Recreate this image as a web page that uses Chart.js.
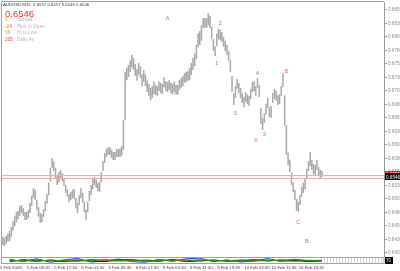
<!DOCTYPE html>
<html><head><meta charset="utf-8">
<script src="https://cdn.jsdelivr.net/npm/chart.js@4.4.1/dist/chart.umd.min.js"></script>
<style>
html,body{margin:0;padding:0;background:#fff;}
#wrap{position:relative;width:400px;height:271px;overflow:hidden;background:#fff;font-family:"Liberation Sans",Arial,sans-serif;}
canvas{position:absolute;left:0;}
#main{top:0;}
#ind{top:257px;}
.t{position:absolute;white-space:nowrap;line-height:1;}
</style></head><body>
<div id="wrap">
<canvas id="main" width="400" height="257"></canvas>
<canvas id="ind" width="400" height="14"></canvas>
<div class="t" style="left:3px;top:3px;font-size:4.3px;color:#333">AUDUSD,M15&nbsp; 0.6557 0.6557 0.6546 0.6546</div>
<div class="t" style="left:5px;top:9px;font-size:9.5px;color:#ff2a2a">0.6546</div>
<div class="t" style="left:5px;top:18px;font-size:4.8px;color:#d8b400">5</div>
<div class="t" style="left:17px;top:18px;font-size:4.8px;color:#b4b4c0">Spread</div>
<div class="t" style="left:5px;top:24.5px;font-size:4.8px;color:#ff5a3c">-24</div>
<div class="t" style="left:17px;top:24.5px;font-size:4.8px;color:#b4b4c0">Pips to Open</div>
<div class="t" style="left:5px;top:31px;font-size:4.8px;color:#e0b000">66</div>
<div class="t" style="left:17px;top:31px;font-size:4.8px;color:#b4b4c0">Hi to Low</div>
<div class="t" style="left:5px;top:37.5px;font-size:4.8px;color:#ff3c3c">205</div>
<div class="t" style="left:17px;top:37.5px;font-size:4.8px;color:#b4b4c0">Daily Av</div>
</div>
<script>
// ---- data (30-minute bars, AUDUSD 5-10 Feb 2009) ----
const highs = [
0.6435,0.6433,0.6437,0.6441,0.6446,0.6453,0.6464,0.6474,0.6481,0.6483,
0.6492,0.6494,0.6488,0.6481,0.6481,0.6485,0.6498,0.6511,0.6525,0.6522,
0.6503,0.6490,0.6479,0.6477,0.6486,0.6501,0.6514,0.6535,0.6563,0.6581,
0.6575,0.6563,0.6549,0.6555,0.6559,0.6553,0.6544,0.6531,0.6523,0.6514,
0.6518,0.6522,0.6523,0.6507,0.6498,0.6512,0.6525,0.6516,0.6500,0.6485,
0.6500,0.6520,0.6531,0.6542,0.6546,0.6541,0.6535,0.6537,0.6555,0.6575,
0.6590,0.6598,0.6601,0.6601,0.6596,0.6592,0.6592,0.6598,0.6598,0.6598,
0.6603,0.6651,0.6740,0.6748,0.6753,0.6762,0.6772,0.6766,0.6755,0.6746,
0.6757,0.6751,0.6736,0.6744,0.6736,0.6725,0.6718,0.6711,0.6714,0.6722,
0.6716,0.6714,0.6723,0.6720,0.6718,0.6731,0.6723,0.6722,0.6725,0.6720,
0.6718,0.6722,0.6716,0.6716,0.6725,0.6729,0.6733,0.6738,0.6740,0.6742,
0.6748,0.6757,0.6766,0.6774,0.6790,0.6812,0.6816,0.6827,0.6840,0.6840,
0.6840,0.6849,0.6844,0.6824,0.6801,0.6788,0.6811,0.6820,0.6818,0.6814,
0.6805,0.6798,0.6790,0.6779,0.6762,0.6733,0.6701,0.6714,0.6727,0.6720,
0.6711,0.6701,0.6694,0.6703,0.6699,0.6696,0.6709,0.6722,0.6723,0.6714,
0.6729,0.6716,0.6674,0.6655,0.6664,0.6681,0.6692,0.6675,0.6677,0.6701,
0.6709,0.6705,0.6697,0.6699,0.6714,0.6738,0.6697,0.6642,0.6591,0.6578,
0.6554,0.6536,0.6522,0.6505,0.6500,0.6512,0.6527,0.6535,0.6542,0.6561,
0.6575,0.6592,0.6577,0.6570,0.6568,0.6577,0.6564,0.6559,0.6557];
const lows = [
0.6420,0.6418,0.6422,0.6426,0.6427,0.6435,0.6446,0.6455,0.6462,0.6468,
0.6474,0.6479,0.6474,0.6466,0.6466,0.6470,0.6479,0.6492,0.6507,0.6503,
0.6485,0.6472,0.6461,0.6462,0.6472,0.6483,0.6496,0.6512,0.6537,0.6563,
0.6557,0.6544,0.6531,0.6536,0.6544,0.6538,0.6529,0.6516,0.6509,0.6499,
0.6503,0.6507,0.6505,0.6488,0.6479,0.6494,0.6507,0.6498,0.6481,0.6466,
0.6481,0.6501,0.6512,0.6523,0.6531,0.6526,0.6520,0.6518,0.6536,0.6557,
0.6572,0.6583,0.6587,0.6587,0.6581,0.6577,0.6577,0.6583,0.6583,0.6583,
0.6585,0.6596,0.6651,0.6725,0.6731,0.6740,0.6749,0.6744,0.6733,0.6724,
0.6735,0.6729,0.6714,0.6722,0.6714,0.6703,0.6696,0.6688,0.6692,0.6699,
0.6698,0.6696,0.6705,0.6701,0.6699,0.6712,0.6705,0.6703,0.6707,0.6701,
0.6699,0.6703,0.6698,0.6698,0.6707,0.6711,0.6714,0.6720,0.6722,0.6724,
0.6725,0.6735,0.6744,0.6751,0.6764,0.6786,0.6790,0.6798,0.6822,0.6822,
0.6822,0.6827,0.6822,0.6801,0.6779,0.6770,0.6788,0.6801,0.6799,0.6796,
0.6787,0.6779,0.6772,0.6761,0.6740,0.6703,0.6679,0.6692,0.6709,0.6701,
0.6692,0.6683,0.6675,0.6685,0.6681,0.6677,0.6690,0.6703,0.6705,0.6696,
0.6711,0.6694,0.6644,0.6633,0.6646,0.6662,0.6674,0.6657,0.6655,0.6683,
0.6690,0.6687,0.6679,0.6681,0.6696,0.6712,0.6641,0.6587,0.6568,0.6555,
0.6531,0.6518,0.6503,0.6483,0.6481,0.6494,0.6509,0.6516,0.6523,0.6543,
0.6557,0.6566,0.6559,0.6551,0.6549,0.6559,0.6549,0.6544,0.6546];
const timeLabels = ['5 Feb 2009','5 Feb 09:30','5 Feb 17:30','6 Feb 01:30','6 Feb 09:30','6 Feb 17:30',
  '9 Feb 03:30','9 Feb 11:30','9 Feb 19:30','10 Feb 03:30','10 Feb 11:30','10 Feb 19:30'];
const barsPerLabel = 16;
const slotCount = 225;               // bars + empty right margin (chart shift)
const priceTicks = [0.6405,0.6430,0.6455,0.6480,0.6505,0.6530,0.6555,0.6580,0.6605,0.6630,
  0.6655,0.6680,0.6705,0.6730,0.6755,0.6780,0.6805,0.6830,0.6855];
const bidPrice = 0.6546, askPrice = 0.6551;
const levelLines = [0.6550, 0.6543];
const waveText  = ['A','2','1','4','5','3','B','A','C','B'];
const waveBar   = [97,128,126,150,137,154,167,149,174,179];
const wavePrice = [0.6840,0.6831,0.6757,0.6737,0.6664,0.6625,0.6742,0.6614,0.6462,0.6427];
const waveRed   = [false,false,false,false,false,false,true,true,true,false];
// oscillator sub-window (one value every 8 bars)
const oscBar   = [4,12,20,28,36,44,52,60,68,76,84,92,100,108,116,124,132,140,148,156,164,172,180,188];
const oscRed   = [40,55,30,60,45,35,70,50,40,55,35,60,50,45,65,40,55,30,50,60,45,35,55,50];
const oscGreen = [50,45,60,40,55,60,45,65,50,40,60,45,55,60,40,55,45,60,40,50,55,60,45,55];
const oscBlue  = [70,30,80,20,60,85,25,40,75,30,20,70,35,80,90,30,60,25,40,85,30,70,50,40];
const oscBlack = [30,65,45,55,30,50,40,30,60,65,45,35,70,30,45,60,35,50,65,40,60,50,30,45];

const FONT = '"Liberation Sans", Arial, sans-serif';
Chart.defaults.font.family = FONT;
Chart.defaults.animation = false;

const slots = Array.from({length: slotCount}, (_, i) => i);
const ranges = lows.map((l, i) => [l, highs[i]]);

const mainDeco = {
  id: 'mainDeco',
  afterDatasetsDraw(chart) {
    const {ctx, chartArea: a, scales: {x, y}} = chart;
    ctx.save();
    ctx.lineWidth = 1;
    ctx.strokeStyle = '#f4a8a8';
    levelLines.forEach(v => {
      const py = Math.round(y.getPixelForValue(v)) + 0.5;
      ctx.beginPath(); ctx.moveTo(a.left, py); ctx.lineTo(a.right, py); ctx.stroke();
    });
    ctx.strokeStyle = '#a0a0a0';
    ctx.beginPath();
    ctx.moveTo(a.left - 0.5, a.bottom); ctx.lineTo(a.left - 0.5, a.top - 0.5); ctx.lineTo(a.right, a.top - 0.5);
    ctx.stroke();
    ctx.font = '6px ' + FONT;
    ctx.textAlign = 'center'; ctx.textBaseline = 'middle';
    waveText.forEach((t, k) => {
      ctx.fillStyle = waveRed[k] ? '#ff6a6a' : '#8c8c8c';
      ctx.fillText(t, x.getPixelForValue(waveBar[k]), y.getPixelForValue(wavePrice[k]));
    });
    ctx.restore();
  },
  afterDraw(chart) {
    const {ctx, chartArea: a, scales: {y}} = chart;
    ctx.save();
    ctx.font = '4.6px ' + FONT;
    ctx.textBaseline = 'middle'; ctx.textAlign = 'left';
    const box = (v, bg, fg, txt) => {
      const py = y.getPixelForValue(v);
      ctx.fillStyle = bg; ctx.fillRect(a.right + 1, Math.round(py - 3.5), 15, 7);
      ctx.fillStyle = fg; ctx.fillText(txt, a.right + 2, py + 0.5);
    };
    box(askPrice, '#ff1010', '#ffffff', askPrice.toFixed(4));
    box(bidPrice, '#000000', '#ffffff', bidPrice.toFixed(4));
    ctx.restore();
  }
};

new Chart(document.getElementById('main'), {
  type: 'bar',
  data: {
    labels: slots,
    datasets: [{
      data: ranges,
      backgroundColor: '#a8a8a8',
      borderWidth: 0,
      barPercentage: 0.9,
      categoryPercentage: 1.0
    }]
  },
  options: {
    responsive: false,
    layout: {padding: {top: 2, left: 2, right: 0, bottom: 0}},
    plugins: {legend: {display: false}, tooltip: {enabled: false}},
    scales: {
      x: {type: 'category', display: false, offset: true},
      y: {
        position: 'right',
        min: 0.639759, max: 0.686981,
        afterBuildTicks: s => { s.ticks = priceTicks.map(v => ({value: v})); },
        afterFit: s => { s.width = 16; s.paddingTop = 0; s.paddingBottom = 0; },
        ticks: {
          font: {size: 4.6, family: FONT}, color: '#8a8a8a', padding: 1,
          callback: v => Number(v).toFixed(4)
        },
        grid: {drawOnChartArea: false, tickLength: 3, color: '#9a9a9a'},
        border: {color: '#9a9a9a'}
      }
    }
  },
  plugins: [mainDeco]
});

const indDeco = {
  id: 'indDeco',
  beforeDatasetsDraw(chart) {
    const {ctx, chartArea: a, scales: {x}} = chart;
    ctx.save();
    const x0 = x.getPixelForValue(highs.length - 0.5);
    ctx.strokeStyle = '#d2d2d2'; ctx.lineWidth = 1;
    for (let px = Math.round(x0) + 1.5; px < a.right; px += 3) {
      ctx.beginPath(); ctx.moveTo(px, a.top + 1); ctx.lineTo(px, a.bottom - 1); ctx.stroke();
    }
    ctx.restore();
  },
  afterDatasetsDraw(chart) {
    const {ctx, chartArea: a} = chart;
    ctx.save();
    ctx.strokeStyle = '#a0a0a0'; ctx.lineWidth = 1;
    ctx.strokeRect(a.left - 0.5, a.top + 0.5, a.right - a.left + 0.5, a.bottom - a.top - 1);
    ctx.fillStyle = '#000'; ctx.fillRect(a.right + 1, a.top, 8, a.bottom - a.top);
    ctx.fillStyle = '#fff'; ctx.font = '4.6px ' + FONT; ctx.textBaseline = 'middle';
    ctx.fillText('70', a.right + 2, (a.top + a.bottom) / 2 + 0.5);
    ctx.restore();
  }
};

const osc = (vals, color) => ({
  data: vals.map((v, i) => ({x: oscBar[i], y: v})),
  borderColor: color, borderWidth: 1, pointRadius: 0, tension: 0, fill: false
});

new Chart(document.getElementById('ind'), {
  type: 'line',
  data: {datasets: [osc(oscGreen, '#00a000'), osc(oscRed, '#ff2020'), osc(oscBlack, '#202020'), osc(oscBlue, '#2040ff')]},
  options: {
    responsive: false,
    layout: {padding: {top: 0, left: 2, right: 16, bottom: 0}},
    plugins: {legend: {display: false}, tooltip: {enabled: false}},
    scales: {
      x: {
        type: 'linear', min: -0.5, max: slotCount - 0.5,
        afterBuildTicks: s => { s.ticks = timeLabels.map((_, k) => ({value: k * barsPerLabel})); },
        afterFit: s => { s.paddingLeft = 0; s.paddingRight = 0; },
        ticks: {
          autoSkip: false, maxRotation: 0, align: 'start', padding: 1, labelOffset: -3,
          font: {size: 4.3, family: FONT}, color: '#404040',
          callback: (v, i) => timeLabels[i]
        },
        grid: {display: false, drawTicks: false},
        border: {display: false}
      },
      y: {display: false, min: -10, max: 110}
    }
  },
  plugins: [indDeco]
});
</script>
</body></html>
